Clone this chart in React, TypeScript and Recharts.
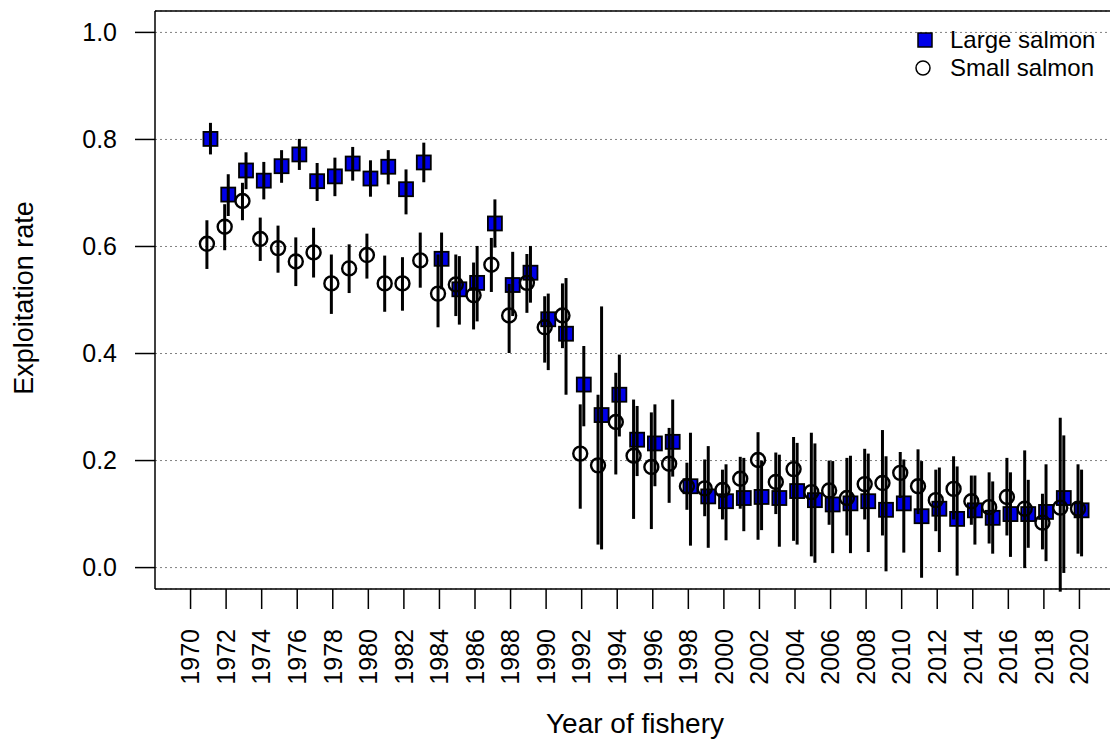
import React from 'react';
import {
  ScatterChart,
  Scatter,
  XAxis,
  YAxis,
  CartesianGrid,
  ErrorBar,
  ReferenceLine,
  Label,
} from 'recharts';

const years = [
  1971, 1972, 1973, 1974, 1975, 1976, 1977, 1978, 1979, 1980,
  1981, 1982, 1983, 1984, 1985, 1986, 1987, 1988, 1989, 1990,
  1991, 1992, 1993, 1994, 1995, 1996, 1997, 1998, 1999, 2000,
  2001, 2002, 2003, 2004, 2005, 2006, 2007, 2008, 2009, 2010,
  2011, 2012, 2013, 2014, 2015, 2016, 2017, 2018, 2019, 2020,
];

// Large salmon: estimate, lower and upper interval
const largeRate = [
  0.801, 0.697, 0.742, 0.723, 0.75, 0.772, 0.722, 0.731, 0.755, 0.727,
  0.749, 0.707, 0.757, 0.577, 0.52, 0.532, 0.643, 0.528, 0.551, 0.464,
  0.437, 0.342, 0.285, 0.323, 0.239, 0.232, 0.235, 0.152, 0.133, 0.124,
  0.13, 0.132, 0.13, 0.143, 0.126, 0.118, 0.12, 0.124, 0.108, 0.12,
  0.096, 0.11, 0.091, 0.107, 0.093, 0.1, 0.1, 0.104, 0.13, 0.107,
];
const largeLow = [
  0.772, 0.657, 0.707, 0.688, 0.719, 0.743, 0.685, 0.694, 0.723, 0.693,
  0.716, 0.66, 0.72, 0.52, 0.454, 0.46, 0.598, 0.47, 0.495, 0.369,
  0.323, 0.264, 0.034, 0.245, 0.171, 0.152, 0.17, 0.041, 0.037, 0.051,
  0.068, 0.07, 0.039, 0.043, 0.009, 0.027, 0.027, 0.029, -0.007, 0.028,
  -0.019, 0.029, -0.015, 0.043, 0.026, 0.02, 0.037, 0.012, -0.01, 0.021,
];
const largeHigh = [
  0.831, 0.735, 0.776, 0.758, 0.78, 0.801, 0.756, 0.766, 0.786, 0.761,
  0.78, 0.744, 0.794, 0.626, 0.582, 0.601, 0.688, 0.59, 0.601, 0.512,
  0.541, 0.414, 0.488, 0.398, 0.302, 0.305, 0.314, 0.252, 0.227, 0.193,
  0.205, 0.2, 0.211, 0.233, 0.232, 0.199, 0.209, 0.213, 0.208, 0.202,
  0.199, 0.187, 0.189, 0.172, 0.161, 0.178, 0.164, 0.193, 0.247, 0.183,
];

// Small salmon: estimate, lower and upper interval
const smallRate = [
  0.605, 0.637, 0.685, 0.614, 0.597, 0.572, 0.589, 0.531, 0.559, 0.584,
  0.531, 0.531, 0.574, 0.512, 0.529, 0.509, 0.566, 0.471, 0.532, 0.449,
  0.471, 0.213, 0.191, 0.272, 0.209, 0.188, 0.194, 0.152, 0.148, 0.145,
  0.166, 0.201, 0.16, 0.184, 0.141, 0.144, 0.13, 0.156, 0.158, 0.177,
  0.152, 0.126, 0.147, 0.124, 0.113, 0.132, 0.11, 0.084, 0.112, 0.11,
];
const smallLow = [
  0.558, 0.593, 0.649, 0.573, 0.551, 0.526, 0.542, 0.474, 0.513, 0.54,
  0.478, 0.48, 0.523, 0.449, 0.47, 0.445, 0.515, 0.401, 0.476, 0.383,
  0.41, 0.11, 0.043, 0.174, 0.091, 0.072, 0.121, 0.108, 0.096, 0.09,
  0.11, 0.052, 0.1, 0.05, 0.021, 0.08, 0.06, 0.09, 0.06, 0.13,
  0.1, 0.068, 0.09, 0.08, 0.045, 0.06, -0.001, 0.034, -0.045, 0.026,
];
const smallHigh = [
  0.649, 0.679, 0.719, 0.654, 0.639, 0.617, 0.635, 0.585, 0.604, 0.624,
  0.583, 0.58, 0.626, 0.585, 0.585, 0.57, 0.616, 0.53, 0.586, 0.507,
  0.531, 0.305, 0.323, 0.364, 0.314, 0.29, 0.261, 0.196, 0.202, 0.183,
  0.207, 0.253, 0.215, 0.244, 0.252, 0.2, 0.205, 0.222, 0.257, 0.216,
  0.221, 0.183, 0.208, 0.172, 0.178, 0.205, 0.219, 0.138, 0.28, 0.193,
];

const xTicks = [
  1970, 1972, 1974, 1976, 1978, 1980, 1982, 1984, 1986, 1988, 1990, 1992,
  1994, 1996, 1998, 2000, 2002, 2004, 2006, 2008, 2010, 2012, 2014, 2016,
  2018, 2020,
];
const yTicks = [0, 0.2, 0.4, 0.6, 0.8, 1.0];

const FONT = '"Liberation Sans", Arial, Helvetica, sans-serif';
const BLUE = '#0000e8';

// small dodge so the two series sit side by side, like the original plot
const largeData = years.map((yr, i) => ({
  x: yr + 0.12,
  y: largeRate[i],
  err: [largeRate[i] - largeLow[i], largeHigh[i] - largeRate[i]],
}));
const smallData = years.map((yr, i) => ({
  x: yr - 0.08,
  y: smallRate[i],
  err: [smallRate[i] - smallLow[i], smallHigh[i] - smallRate[i]],
}));

function SquareMark(props: any) {
  const { cx, cy } = props;
  if (cx == null || cy == null) return <g />;
  return (
    <rect x={cx - 7} y={cy - 7} width={14} height={14} fill={BLUE} stroke="#000" strokeWidth={1.8} />
  );
}

function CircleMark(props: any) {
  const { cx, cy } = props;
  if (cx == null || cy == null) return <g />;
  return <circle cx={cx} cy={cy} r={7} fill="none" stroke="#000" strokeWidth={2.4} />;
}

const NoMark = () => <g />;

function XTick({ x, y, payload }: any) {
  return (
    <text
      x={x}
      y={y}
      transform={`rotate(-90, ${x}, ${y})`}
      textAnchor="end"
      dy="0.35em"
      fontSize={25}
      fontFamily={FONT}
      fill="#000"
    >
      {payload.value}
    </text>
  );
}

export default function App() {
  return (
    <div
      style={{
        position: 'absolute',
        left: 0,
        top: 0,
        width: 1110,
        height: 742,
        overflow: 'hidden',
        background: '#fff',
      }}
    >
      <ScatterChart width={1130} height={742} margin={{ top: 11, right: 15, bottom: 0, left: 0 }}>
        <CartesianGrid vertical={false} stroke="#808080" strokeDasharray="2 3" />
        <XAxis
          type="number"
          dataKey="x"
          domain={[1968, 2022]}
          allowDataOverflow
          ticks={xTicks}
          interval={0}
          height={153}
          axisLine={false}
          tickSize={20}
          tickMargin={20}
          tickLine={{ stroke: '#000', strokeWidth: 1.5 }}
          tick={<XTick />}
        >
          <Label
            content={() => (
              <text x={635} y={733} textAnchor="middle" fontSize={28} fontFamily={FONT} fill="#000">
                Year of fishery
              </text>
            )}
          />
        </XAxis>
        <YAxis
          type="number"
          dataKey="y"
          domain={[-0.04, 1.04]}
          allowDataOverflow
          ticks={yTicks}
          width={155}
          axisLine={false}
          tickSize={20}
          tickMargin={18}
          tickLine={{ stroke: '#000', strokeWidth: 1.5 }}
          tickFormatter={(v: number) => v.toFixed(1)}
          tick={{ fontSize: 25, fontFamily: FONT, fill: '#000' }}
        >
          <Label
            content={() => (
              <text
                x={33}
                y={298}
                transform="rotate(-90, 33, 298)"
                textAnchor="middle"
                fontSize={27}
                fontFamily={FONT}
                fill="#000"
              >
                Exploitation rate
              </text>
            )}
          />
        </YAxis>
        {/* plot frame: the right edge falls outside the picture */}
        <ReferenceLine y={1.04} stroke="#000" strokeWidth={1.5} ifOverflow="visible" />
        <ReferenceLine y={-0.04} stroke="#000" strokeWidth={1.5} ifOverflow="visible" />
        <ReferenceLine x={1968} stroke="#000" strokeWidth={1.5} ifOverflow="visible" />
        <Scatter name="Large salmon" data={largeData} shape={<SquareMark />} isAnimationActive={false} />
        <Scatter name="Small salmon" data={smallData} shape={<CircleMark />} isAnimationActive={false} />
        {/* interval bars go on top of the symbols */}
        <Scatter data={largeData} shape={NoMark} isAnimationActive={false} zIndex={900}>
          <ErrorBar dataKey="err" direction="y" width={0} stroke="#000" strokeWidth={3} isAnimationActive={false} zIndex={900} />
        </Scatter>
        <Scatter data={smallData} shape={NoMark} isAnimationActive={false} zIndex={900}>
          <ErrorBar dataKey="err" direction="y" width={0} stroke="#000" strokeWidth={3} isAnimationActive={false} zIndex={900} />
        </Scatter>
      </ScatterChart>

      <div style={{ position: 'absolute', left: 905, top: 26, fontFamily: FONT, fontSize: 24, color: '#000' }}>
        <div style={{ display: 'flex', alignItems: 'center', height: 28 }}>
          <svg width={40} height={28}>
            <rect x={13} y={7} width={14} height={14} fill={BLUE} stroke="#000" strokeWidth={1.5} />
          </svg>
          <span style={{ marginLeft: 5 }}>Large salmon</span>
        </div>
        <div style={{ display: 'flex', alignItems: 'center', height: 28 }}>
          <svg width={40} height={28}>
            <circle cx={18} cy={14} r={7} fill="none" stroke="#000" strokeWidth={1.5} />
          </svg>
          <span style={{ marginLeft: 5 }}>Small salmon</span>
        </div>
      </div>
    </div>
  );
}
